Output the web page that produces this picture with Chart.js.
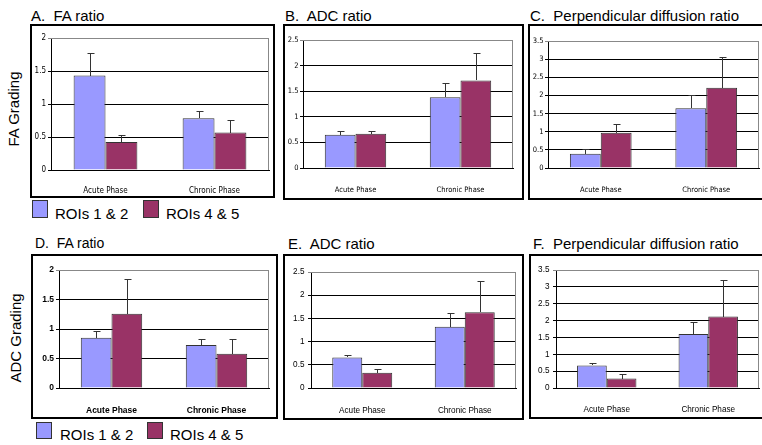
<!DOCTYPE html>
<html><head><meta charset="utf-8">
<script src="https://cdn.jsdelivr.net/npm/chart.js@4.4.1/dist/chart.umd.min.js"></script>
<style>
html,body{margin:0;padding:0;background:#fff;}
body{width:762px;height:445px;position:relative;overflow:hidden;font-family:"Liberation Sans",Arial,Helvetica,sans-serif;color:#000;}
.box{position:absolute;border:2px solid #000;box-sizing:border-box;}
canvas{position:absolute;}
.t{position:absolute;white-space:pre;line-height:1;}
.sq{position:absolute;border:1px solid #333;box-sizing:border-box;}
</style></head><body>
<script>
// ---------- data ----------
const categories = ['Acute Phase', 'Chronic Phase'];
const seriesLabels = ['ROIs 1 & 2', 'ROIs 4 & 5'];

// FA grading row
const faRatioFA_roi12 = [1.43, 0.785];
const faRatioFA_roi12Err = [0.34, 0.11];
const faRatioFA_roi45 = [0.425, 0.567];
const faRatioFA_roi45Err = [0.10, 0.19];
const adcRatioFA_roi12 = [0.65, 1.38];
const adcRatioFA_roi12Err = [0.07, 0.28];
const adcRatioFA_roi45 = [0.67, 1.71];
const adcRatioFA_roi45Err = [0.05, 0.54];
const perpRatioFA_roi12 = [0.39, 1.65];
const perpRatioFA_roi12Err = [0.13, 0.36];
const perpRatioFA_roi45 = [0.97, 2.21];
const perpRatioFA_roi45Err = [0.23, 0.85];

// ADC grading row
const faRatioADC_roi12 = [0.85, 0.73];
const faRatioADC_roi12Err = [0.115, 0.105];
const faRatioADC_roi45 = [1.26, 0.58];
const faRatioADC_roi45Err = [0.585, 0.255];
const adcRatioADC_roi12 = [0.66, 1.32];
const adcRatioADC_roi12Err = [0.05, 0.30];
const adcRatioADC_roi45 = [0.33, 1.63];
const adcRatioADC_roi45Err = [0.08, 0.68];
const perpRatioADC_roi12 = [0.67, 1.60];
const perpRatioADC_roi12Err = [0.06, 0.35];
const perpRatioADC_roi45 = [0.28, 2.12];
const perpRatioADC_roi45Err = [0.15, 1.07];

// tick labels
const ticksFA = ['0', '0.5', '1', '1.5', '2'];
const ticksADC = ['0', '0.5', '1', '1.5', '2', '2.5'];
const ticksPerp = ['0', '0.5', '1', '1.5', '2', '2.5', '3', '3.5'];

const rowLabels = ['FA Grading', 'ADC Grading'];

// ---------- styles / layout ----------
const COLORS = ['#9999FF', '#993366'];
const FONT = '"Liberation Sans", Arial, Helvetica, sans-serif';
const NARROW = '"Liberation Sans Narrow", "Arial Narrow", "DejaVu Sans Condensed", sans-serif';

const panels = [
  {title:'A.  FA ratio', tf:15, tx:31, tb:20.7, ticks:ticksFA,
   d1:faRatioFA_roi12, e1:faRatioFA_roi12Err, d2:faRatioFA_roi45, e2:faRatioFA_roi45Err,
   box:[30,24,275,198], plot:[51,38,269,170], font:{family:NARROW,size:8}, xPad:8, yPad:2},
  {title:'B.  ADC ratio', tf:15, tx:285, tb:20.7, ticks:ticksADC,
   d1:adcRatioFA_roi12, e1:adcRatioFA_roi12Err, d2:adcRatioFA_roi45, e2:adcRatioFA_roi45Err,
   box:[283,24,524,200], plot:[303,40,513,168], font:{family:NARROW,size:7.5}, xPad:10, yPad:1.5},
  {title:'C.  Perpendicular diffusion ratio', tf:15, tx:530, tb:21, ticks:ticksPerp,
   d1:perpRatioFA_roi12, e1:perpRatioFA_roi12Err, d2:perpRatioFA_roi45, e2:perpRatioFA_roi45Err,
   box:[528,24,766,200], plot:[548,41,759,168], font:{family:NARROW,size:7.5}, xPad:10, yPad:1.5},
  {title:'D.  FA ratio', tf:14, tx:35, tb:248.3, ticks:ticksFA,
   d1:faRatioADC_roi12, e1:faRatioADC_roi12Err, d2:faRatioADC_roi45, e2:faRatioADC_roi45Err,
   box:[31,254,278,419], plot:[59,270,269,388], font:{family:FONT,size:8.5,weight:'bold'}, xPad:10, yPad:2},
  {title:'E.  ADC ratio', tf:15, tx:288, tb:249, ticks:ticksADC,
   d1:adcRatioADC_roi12, e1:adcRatioADC_roi12Err, d2:adcRatioADC_roi45, e2:adcRatioADC_roi45Err,
   box:[283,254,524,420], plot:[311,272,516,388], font:{family:FONT,size:8.2}, xPad:10, yPad:3.5},
  {title:'F.  Perpendicular diffusion ratio', tf:15, tx:533, tb:249, ticks:ticksPerp,
   d1:perpRatioADC_roi12, e1:perpRatioADC_roi12Err, d2:perpRatioADC_roi45, e2:perpRatioADC_roi45Err,
   box:[529,254,766,419], plot:[556,270,759,388], font:{family:FONT,size:8.2}, xPad:9, yPad:3.5}
];

function addText(txt, left, baseline, size, extra) {
  const d = document.createElement('div');
  d.className = 't';
  d.textContent = txt;
  d.style.fontSize = size + 'px';
  d.style.left = left + 'px';
  d.style.top = (baseline - 0.8465 * size) + 'px';
  if (extra) Object.assign(d.style, extra);
  document.body.appendChild(d);
  return d;
}

const errorBars = {
  id: 'errorBars',
  afterDatasetsDraw(chart) {
    const ctx = chart.ctx, ys = chart.scales.y;
    chart.data.datasets.forEach((ds, i) => {
      chart.getDatasetMeta(i).data.forEach((bar, j) => {
        const x = Math.round(bar.x) + 0.5;
        const yt = Math.round(ys.getPixelForValue(ds.data[j] + ds.errors[j])) + 0.5;
        ctx.save();
        ctx.strokeStyle = '#333';
        ctx.lineWidth = 1;
        ctx.beginPath();
        ctx.moveTo(x, Math.round(bar.y));
        ctx.lineTo(x, yt);
        ctx.moveTo(x - 3, yt);
        ctx.lineTo(x + 4, yt);
        ctx.stroke();
        ctx.restore();
      });
    });
  }
};

const plotFrame = {
  id: 'plotFrame',
  beforeDatasetsDraw(chart) {
    const a = chart.chartArea, ctx = chart.ctx;
    ctx.save();
    ctx.strokeStyle = '#888';
    ctx.lineWidth = 1;
    ctx.beginPath();
    const t = Math.round(a.top) + 0.5, r = Math.round(a.right) - 0.5, b = Math.round(a.bottom);
    ctx.moveTo(Math.round(a.left), t);
    ctx.lineTo(r, t);
    ctx.lineTo(r, b);
    ctx.stroke();
    ctx.restore();
  }
};

panels.forEach(p => {
  const [bl, bt, br, bb] = p.box;
  const [pl, pt, pr, pb] = p.plot;
  const box = document.createElement('div');
  box.className = 'box';
  Object.assign(box.style, {left: bl + 'px', top: bt + 'px', width: (br - bl) + 'px', height: (bb - bt) + 'px'});
  document.body.appendChild(box);

  const cx = bl + 2, cy = bt + 2, cw = br - bl - 4, ch = bb - bt - 4;
  const cv = document.createElement('canvas');
  cv.width = cw; cv.height = ch;
  Object.assign(cv.style, {left: cx + 'px', top: cy + 'px', width: cw + 'px', height: ch + 'px'});
  document.body.appendChild(cv);

  addText(p.title, p.tx, p.tb, p.tf);

  const tickVals = p.ticks.map(Number);
  const ymax = tickVals[tickVals.length - 1];
  new Chart(cv, {
    type: 'bar',
    data: {
      labels: categories,
      datasets: [
        {label: seriesLabels[0], data: p.d1, errors: p.e1, backgroundColor: COLORS[0], borderColor: '#333', borderWidth: 1},
        {label: seriesLabels[1], data: p.d2, errors: p.e2, backgroundColor: COLORS[1], borderColor: '#333', borderWidth: 1}
      ]
    },
    options: {
      responsive: false, animation: false, devicePixelRatio: 1,
      datasets: {bar: {barPercentage: 1, categoryPercentage: 0.585}},
      layout: {padding: {left: 0, top: pt - cy, right: (cx + cw) - pr, bottom: 0}},
      plugins: {legend: {display: false}, tooltip: {enabled: false}, title: {display: false}},
      scales: {
        x: {
          grid: {display: false},
          border: {display: true, color: '#000', width: 1},
          ticks: {font: p.font, color: '#000', padding: p.xPad, maxRotation: 0, autoSkip: false},
          afterFit(s) { s.height = (cy + ch) - pb; }
        },
        y: {
          min: 0, max: ymax,
          afterBuildTicks(s) { s.ticks = tickVals.map(v => ({value: v})); },
          grid: {color: c => (c.tick && c.tick.value === ymax) ? '#888' : '#000', lineWidth: 1, tickLength: 3},
          border: {display: true, color: '#000', width: 1},
          ticks: {font: p.font, color: '#000', padding: p.yPad,
                  callback: (v, i) => p.ticks[i]},
          afterFit(s) { s.width = pl - cx; }
        }
      }
    },
    plugins: [plotFrame, errorBars]
  });
});

// row labels (rotated)
function addRotated(txt, cxp, cyp, size) {
  const d = document.createElement('div');
  d.className = 't';
  d.textContent = txt;
  d.style.fontSize = size + 'px';
  d.style.left = cxp + 'px';
  d.style.top = cyp + 'px';
  d.style.transform = 'translate(-50%,-50%) rotate(-90deg)';
  document.body.appendChild(d);
}
addRotated(rowLabels[0], 13, 109, 15);
addRotated(rowLabels[1], 14.6, 337.5, 15);

// legends
function addLegend(items) {
  items.forEach(it => {
    const s = document.createElement('div');
    s.className = 'sq';
    Object.assign(s.style, {left: it.sx + 'px', top: it.sy + 'px', width: it.sw + 'px', height: it.sh + 'px', background: it.color});
    document.body.appendChild(s);
    addText(it.label, it.tx, it.tb, 15);
  });
}
addLegend([
  {label: seriesLabels[0], color: COLORS[0], sx: 32, sy: 200, sw: 16, sh: 18, tx: 55, tb: 218.3},
  {label: seriesLabels[1], color: COLORS[1], sx: 143, sy: 200, sw: 16, sh: 18, tx: 166, tb: 218.3}
]);
addLegend([
  {label: seriesLabels[0], color: COLORS[0], sx: 36, sy: 422, sw: 16, sh: 17, tx: 60, tb: 439.3},
  {label: seriesLabels[1], color: COLORS[1], sx: 147, sy: 422, sw: 16, sh: 17, tx: 170, tb: 439.3}
]);
</script>
</body></html>
